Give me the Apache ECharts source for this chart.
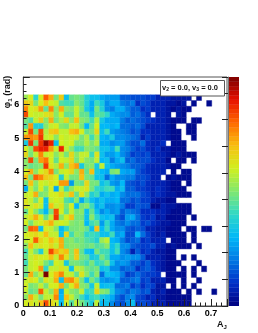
<!DOCTYPE html>
<html><head><meta charset="utf-8">
<style>html,body{margin:0;padding:0;background:#fff}#c{width:258px;height:333px}</style>
<script src="https://cdn.jsdelivr.net/npm/echarts@6/dist/echarts.min.js"></script>
</head><body><div id="c"></div>
<script>
// rows top (phi = 6.29) to bottom (phi = 0); columns A_J from 0 in bins of binX
const binX = 0.019, binY = 0.17;
const counts = [
[23,26,17,26,35,31,21,29,14,20,21,20,16,14,14,12,11,11,11,7,7,6,6,6,5,5,3,3,3,2,2,2,2,0,1,0,0,0],
[29,28,21,26,30,26,25,19,18,18,22,20,16,12,18,15,10,12,12,9,8,9,4,6,5,3,3,3,2,2,1,2,0,1,0,0,1,0],
[33,26,27,32,20,33,22,31,22,21,25,21,15,12,21,16,10,9,12,12,9,7,7,4,5,3,3,3,2,1,2,1,1,0,0,0,0,0],
[36,26,25,25,27,28,22,26,20,20,25,20,20,14,20,19,17,12,11,10,10,7,8,6,4,0,3,3,2,0,2,1,0,0,0,0,0,0],
[21,19,25,29,22,31,21,24,28,22,30,22,21,18,24,15,12,12,12,9,7,8,7,6,5,4,3,3,2,1,1,1,0,1,1,0,0,0],
[19,32,16,16,22,25,26,22,21,25,25,21,13,20,26,13,13,12,13,8,8,7,8,6,3,3,3,3,2,1,0,0,1,1,0,0,0,0],
[25,36,21,36,24,29,30,25,25,30,31,26,20,21,28,14,18,11,10,9,8,6,7,4,4,3,3,3,2,1,1,0,1,1,0,0,0,0],
[32,33,32,37,25,26,22,26,25,26,25,21,24,18,23,13,12,15,10,10,9,8,7,3,5,3,3,3,2,1,1,0,0,1,0,0,0,0],
[15,37,21,37,42,38,14,26,25,26,21,21,24,21,24,12,12,10,11,11,8,6,6,8,4,3,3,4,0,1,1,1,0,0,0,0,0,0],
[26,22,36,38,38,32,25,38,25,22,18,18,22,21,20,14,14,12,18,10,9,7,5,6,4,3,4,2,2,1,1,1,0,0,0,0,0,0],
[28,21,25,33,25,26,22,25,21,28,22,25,25,18,27,14,11,11,13,10,8,5,6,5,6,3,3,3,2,1,2,1,1,1,0,0,0,0],
[22,36,21,32,34,26,20,26,25,28,21,25,22,21,25,13,14,9,12,14,7,8,6,6,6,4,3,3,1,0,1,1,0,1,0,0,0,0],
[22,20,21,22,37,27,24,31,22,30,32,15,21,22,15,25,14,12,11,10,9,7,7,6,4,3,3,3,2,1,1,0,0,0,0,0,0,0],
[26,31,22,26,28,33,21,25,26,28,22,31,20,30,15,13,12,21,22,12,11,11,7,5,4,3,3,3,0,1,0,1,1,0,0,0,0,0],
[30,21,35,33,29,28,26,16,25,21,21,30,21,20,14,14,8,12,10,10,9,9,6,6,5,3,3,0,1,2,1,1,1,0,0,0,0,0],
[21,30,22,26,25,27,26,32,32,11,21,20,28,21,21,14,16,11,10,13,7,6,5,6,4,3,3,3,2,1,1,0,1,0,0,0,0,0],
[12,25,21,26,21,26,12,25,18,22,25,25,27,21,17,16,18,18,12,14,7,7,5,5,4,3,4,3,2,1,1,1,0,0,0,0,0,0],
[25,26,31,21,22,26,26,28,24,30,20,27,22,16,18,12,14,12,13,10,8,8,8,6,5,3,4,3,2,2,1,1,1,0,0,0,0,0],
[27,25,21,26,14,25,26,25,19,17,22,12,18,14,12,14,12,12,13,8,8,6,7,5,5,3,2,2,1,1,0,0,0,0,0,0,0,0],
[27,25,27,25,14,30,25,27,21,26,13,21,22,18,12,14,10,10,11,9,5,5,7,6,6,1,1,3,2,2,1,1,1,0,0,0,0,0],
[20,26,22,18,13,21,36,26,20,25,21,22,14,20,14,10,12,10,11,7,9,8,7,4,4,4,3,3,2,1,1,1,1,0,0,0,0,0],
[25,27,31,26,20,25,37,22,26,30,21,21,14,22,17,14,13,14,8,6,11,12,8,5,4,5,2,3,1,1,1,1,0,1,0,0,0,0],
[26,21,25,26,28,31,25,26,25,22,21,22,13,18,20,11,17,12,9,8,10,8,8,5,6,4,3,2,2,1,1,1,0,0,0,0,0,0],
[21,35,34,14,26,25,22,13,17,21,21,22,20,14,30,13,18,12,10,10,7,6,7,6,3,3,2,2,1,1,1,0,1,1,0,1,1,0],
[26,27,28,26,30,25,25,14,28,18,22,21,17,18,17,14,14,18,11,12,6,6,13,8,5,3,2,3,1,1,1,1,0,1,0,0,0,0],
[25,26,35,28,26,30,27,31,21,22,20,21,19,18,16,23,25,13,12,9,6,7,8,4,5,3,3,3,0,1,1,1,0,1,0,0,0,0],
[22,30,25,27,26,28,25,31,21,22,22,21,20,21,19,20,22,14,17,10,10,7,6,5,5,6,3,3,1,2,1,1,1,0,1,0,0,0],
[18,25,21,16,25,36,31,28,30,22,30,20,14,13,21,18,18,14,18,10,8,3,7,4,5,3,2,2,1,1,0,0,0,0,0,0,0,0],
[20,25,27,26,26,30,25,33,27,22,29,21,20,15,16,21,18,12,12,10,11,10,10,7,3,3,3,2,1,1,0,1,0,1,0,0,0,0],
[18,25,26,25,21,18,26,25,15,21,21,20,18,21,17,18,21,14,10,11,10,7,7,5,7,4,3,2,1,1,1,0,0,0,1,0,0,0],
[21,25,26,32,17,25,25,27,25,14,25,24,21,20,21,14,15,10,10,7,8,8,4,6,7,5,3,2,1,1,0,1,0,1,0,1,0,0],
[20,31,22,25,43,26,30,33,25,25,20,27,22,18,22,8,14,13,12,9,5,6,8,6,5,5,4,0,1,1,1,1,0,1,0,0,0,0],
[25,27,26,21,27,25,31,14,32,33,28,21,14,21,18,11,10,11,12,7,7,8,9,5,6,3,3,3,1,1,0,1,0,0,1,0,0,0],
[26,21,22,25,21,26,26,31,21,26,31,22,21,15,25,13,14,14,8,8,9,5,7,4,6,5,2,2,0,1,0,1,0,1,0,0,0,0],
[25,20,21,35,25,22,31,12,25,22,21,25,17,18,28,22,21,15,10,9,7,9,8,6,7,3,2,3,1,1,1,0,1,0,1,0,0,1],
[22,31,25,21,25,25,33,13,30,25,21,18,14,17,18,15,14,12,8,6,9,10,6,5,3,4,2,2,1,1,1,1,1,0,0,0,0,0],
[26,27,25,30,36,28,26,13,26,19,25,21,18,15,25,13,14,10,7,6,10,14,5,6,5,3,2,3,1,1,1,1,1,0,0,0,0,0]
];
const xTicksMax = 0.76, yTicksMax = 6.82, zMax = 43, paletteBands = 50;
const palette = ['#00007f','#0030c8','#0078e4','#00b8f8','#30d8c8','#80e870','#d0f020','#f8c010','#ff6a00','#e81000','#7a0000'];

const cells = [];
counts.forEach((row, r) => row.forEach((v, c) => {
  if (v > 0) {
    const iy = counts.length - 1 - r;
    cells.push([c * binX, iy * binY, (c + 1) * binX, (iy + 1) * binY, v]);
  }
}));
const bands = [];
for (let i = 0; i < paletteBands; i++) {
  const lo = i * zMax / paletteBands, hi = (i + 1) * zMax / paletteBands;
  bands.push([0, lo, 1, hi, (lo + hi) / 2]);
}
const renderCell = (params, api) => {
  const a = api.coord([api.value(0), api.value(1)]);
  const b = api.coord([api.value(2), api.value(3)]);
  const color = api.visual('color');
  return {type:'rect', shape:{x:a[0], y:b[1], width:b[0]-a[0], height:a[1]-b[1]},
          style:{fill:color, stroke:color, lineWidth:0.4}};
};

const labelFont = {color:'#000', fontFamily:'Liberation Sans', fontWeight:'bold', fontSize:9};
const axisBase = {
  z: 5, axisLine:{show:true, lineStyle:{color:'#444', width:1}},
  splitLine:{show:false}
};
const chart = echarts.init(document.getElementById('c'), null, {renderer:'canvas'});
chart.setOption({
  animation:false,
  backgroundColor:'#fff',
  grid:[
    {left:23.3, top:77, width:203.7, height:229, show:true, borderColor:'#555', borderWidth:1, backgroundColor:'#fff'},
    {left:228, top:77, width:11, height:229}
  ],
  xAxis:[
    Object.assign({}, axisBase, {type:'value', min:0, max:xTicksMax, interval:0.1,
      axisTick:{show:true, inside:true, length:7, lineStyle:{color:'#222'}},
      minorTick:{show:true, splitNumber:5, length:3.5, lineStyle:{color:'#222'}},
      axisLabel:Object.assign({margin:3, showMaxLabel:false, formatter:v=>String(v)}, labelFont)}),
    {gridIndex:1, type:'value', min:0, max:1, show:false}
  ],
  yAxis:[
    Object.assign({}, axisBase, {type:'value', min:0, max:yTicksMax, interval:1,
      axisTick:{show:true, inside:true, length:6.5, lineStyle:{color:'#222'}},
      minorTick:{show:true, splitNumber:5, length:3.2, lineStyle:{color:'#222'}},
      axisLabel:Object.assign({margin:4, showMaxLabel:false}, labelFont)}),
    {gridIndex:1, type:'value', min:0, max:zMax, interval:5, position:'right', z:5,
      axisLine:{show:true, lineStyle:{color:'#777'}},
      axisTick:{show:true, inside:true, length:6, lineStyle:{color:'#222'}},
      axisLabel:{show:false}, splitLine:{show:false}}
  ],
  visualMap:{
    type:'continuous', show:false, min:0, max:zMax, dimension:4, seriesIndex:[0,1],
    inRange:{color:palette}
  },
  series:[{
    type:'custom', xAxisIndex:0, yAxisIndex:0, z:1, clip:true, data:cells,
    encode:{x:[0,2], y:[1,3]}, renderItem:renderCell
  },{
    type:'custom', xAxisIndex:1, yAxisIndex:1, z:1, clip:true, data:bands,
    encode:{x:[0,2], y:[1,3]}, renderItem:renderCell
  }],
  graphic:[
    {type:'rect', z:20, shape:{x:160.5, y:80.5, width:64, height:15.5}, style:{fill:'#fff', stroke:'#555', lineWidth:1}},
    {type:'text', z:21, x:162, y:88, style:{
      text:'{b|v}{s|2}{b| = 0.0, v}{s|3}{b| = 0.0}', verticalAlign:'middle', align:'left',
      rich:{b:{fontFamily:'Liberation Sans', fontWeight:'bold', fontSize:7.5, fill:'#111'},
            s:{fontFamily:'Liberation Sans', fontWeight:'bold', fontSize:5, fill:'#111', verticalAlign:'bottom', padding:[4,0,0,0]}}
    }},
    {type:'text', z:21, x:222, y:325, style:{
      text:'{b|A}{s|J}', align:'center', verticalAlign:'middle',
      rich:{b:{fontFamily:'Liberation Sans', fontWeight:'bold', fontSize:9, fill:'#111'},
            s:{fontFamily:'Liberation Sans', fontWeight:'bold', fontSize:6, fill:'#111', padding:[5,0,0,0]}}
    }},
    {type:'text', z:21, x:8, y:92, rotation:Math.PI/2, style:{
      text:'{b|\u03c6}{s|1}{b| (rad)}', align:'center', verticalAlign:'middle',
      rich:{b:{fontFamily:'Liberation Sans', fontWeight:'bold', fontSize:9, fill:'#111'},
            s:{fontFamily:'Liberation Sans', fontWeight:'bold', fontSize:6, fill:'#111', padding:[5,0,0,0]}}
    }}
  ]
});
</script></body></html>
